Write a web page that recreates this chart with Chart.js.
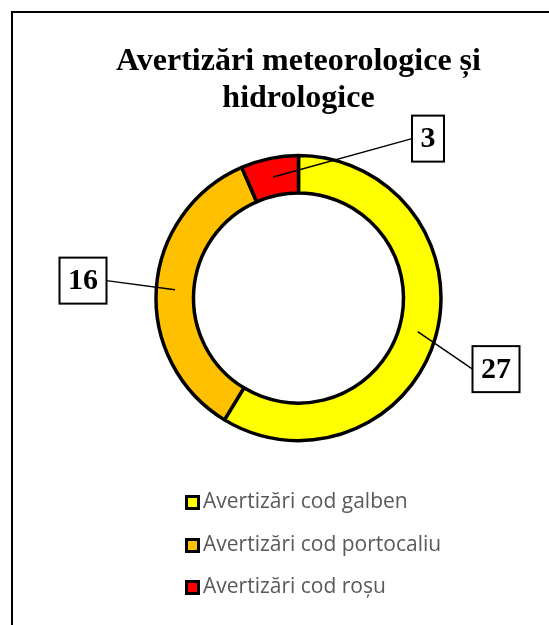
<!DOCTYPE html>
<html>
<head>
<meta charset="utf-8">
<script src="https://cdn.jsdelivr.net/npm/chart.js@4"></script>
<style>
  body { margin: 0; background: #fff; overflow: hidden; width: 549px; height: 625px; position: relative; }
  #frame { position: absolute; left: 11px; top: 11px; width: 700px; height: 700px; border: 2px solid #000; }
  #chart { position: absolute; left: 0; top: 0; }
</style>
</head>
<body>
<div id="frame"></div>
<canvas id="chart" width="597" height="625"></canvas>
<script>
const titleLines = ["Avertizări meteorologice și", "hidrologice"];
const categories = ["Avertizări cod galben", "Avertizări cod portocaliu", "Avertizări cod roșu"];
const warningCounts = [27, 16, 3];
const sliceColors = ["#FFFF00", "#FFC000", "#FF0000"];

// where the value boxes sit, relative to the ring centre
const labelBoxOffsets = [[197.5, 71], [-215.5, -17.5], [129.5, -159.5]];

const valueLabels = {
  id: "valueLabels",
  afterDatasetsDraw(chart) {
    const ctx = chart.ctx;
    const meta = chart.getDatasetMeta(0);
    ctx.save();
    ctx.font = 'bold 30px "Liberation Serif"';
    meta.data.forEach((arc, i) => {
      const p = arc.tooltipPosition();
      const text = String(chart.data.datasets[0].data[i]);
      const w = ctx.measureText(text).width + 17;
      const h = 46;
      const bx = arc.x + labelBoxOffsets[i][0];
      const by = arc.y + labelBoxOffsets[i][1];
      const ex = bx > p.x ? bx - w / 2 : bx + w / 2;
      ctx.strokeStyle = "#000";
      ctx.lineWidth = 1.5;
      ctx.beginPath();
      ctx.moveTo(p.x, p.y);
      ctx.lineTo(ex, by);
      ctx.stroke();
      ctx.fillStyle = "#fff";
      ctx.fillRect(bx - w / 2, by - h / 2, w, h);
      ctx.lineWidth = 2;
      ctx.strokeRect(bx - w / 2, by - h / 2, w, h);
      ctx.fillStyle = "#000";
      ctx.textAlign = "center";
      ctx.textBaseline = "middle";
      ctx.fillText(text, bx, by + 1);
    });
    ctx.restore();
  }
};

// vertical legend under the ring, boxes left-aligned
const columnLegend = {
  id: "columnLegend",
  afterDraw(chart) {
    const ctx = chart.ctx;
    const ds = chart.data.datasets[0];
    const x = 185;
    const rowY = [502, 545, 587];
    ctx.save();
    ctx.font = '21px "Open Sans"';
    ctx.textBaseline = "middle";
    chart.data.labels.forEach((label, i) => {
      const y = rowY[i];
      ctx.fillStyle = "#000";
      ctx.fillRect(x, y - 7, 15, 15);
      ctx.fillStyle = ds.backgroundColor[i];
      ctx.fillRect(x + 3, y - 4, 9, 9);
      ctx.fillStyle = "#595959";
      ctx.fillText(label, x + 18, y);
    });
    ctx.restore();
  }
};

new Chart(document.getElementById("chart"), {
  type: "doughnut",
  data: {
    labels: categories,
    datasets: [{
      data: warningCounts,
      backgroundColor: sliceColors,
      borderColor: "#000",
      borderWidth: 3.5
    }]
  },
  options: {
    responsive: false,
    animation: false,
    radius: 142.5,
    cutout: "73.7%",
    layout: { padding: { top: 0, bottom: 179, left: 0, right: 0 } },
    plugins: {
      title: {
        display: true,
        text: titleLines,
        color: "#000",
        font: { family: "Liberation Serif", size: 32, weight: "bold", lineHeight: 1.16 },
        padding: { top: 43.5, bottom: 32.5 }
      },
      legend: { display: false },
      tooltip: { enabled: false }
    }
  },
  plugins: [valueLabels, columnLegend]
});
</script>
</body>
</html>
